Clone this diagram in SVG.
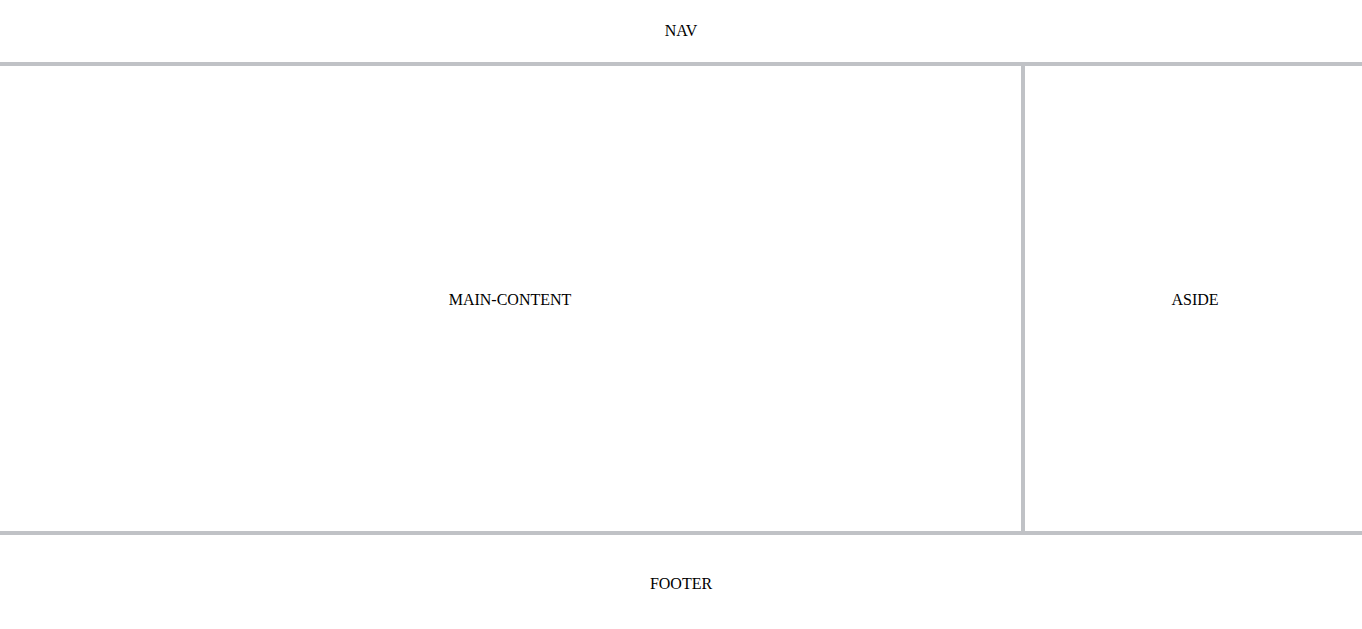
<svg xmlns="http://www.w3.org/2000/svg" width="1362" height="629" viewBox="0 0 1362 629">
<style>
.t{font-family:"Liberation Serif","Times New Roman",serif;font-size:16px;fill:#000;text-anchor:middle}
.b{fill:#c0c2c6}
</style>
<rect width="1362" height="629" fill="#fff"/>
<g id="connectors">
<rect class="b" x="0" y="62" width="1362" height="4"/>
<rect class="b" x="1021" y="66" width="4" height="465"/>
<rect class="b" x="0" y="531" width="1362" height="4"/>
</g>
<g id="nav"><text class="t" x="681" y="36">NAV</text></g>
<g id="main-content"><text class="t" x="510" y="305">MAIN-CONTENT</text></g>
<g id="aside"><text class="t" x="1195" y="305">ASIDE</text></g>
<g id="footer"><text class="t" x="681" y="589">FOOTER</text></g>
</svg>
